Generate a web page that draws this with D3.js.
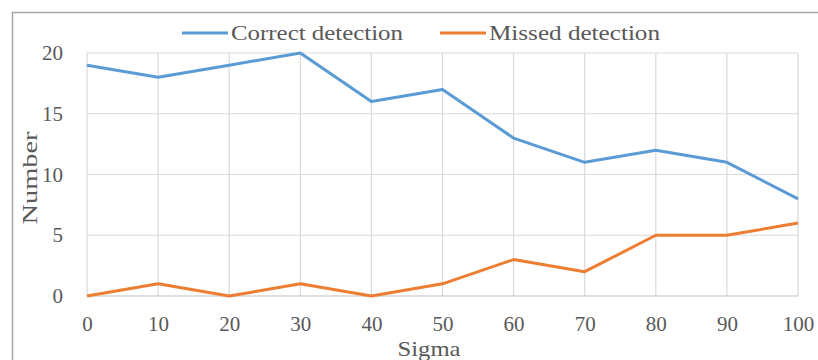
<!DOCTYPE html>
<html>
<head>
<meta charset="utf-8">
<script src="https://cdn.jsdelivr.net/npm/d3@7"></script>
<style>
  html, body { margin: 0; padding: 0; background: #fff; }
  svg { display: block; }
  text { font-family: "Liberation Serif", "DejaVu Serif", serif; fill: #595959; }
</style>
</head>
<body>
<svg id="chart" width="818" height="360"></svg>
<script>
// Detection counts per noise level (sigma)
const sigma = [0, 10, 20, 30, 40, 50, 60, 70, 80, 90, 100];
const correctDetection = [19, 18, 19, 20, 16, 17, 13, 11, 12, 11, 8];
const missedDetection  = [0, 1, 0, 1, 0, 1, 3, 2, 5, 5, 6];
const yTicks = [0, 5, 10, 15, 20];
const xTicks = [0, 10, 20, 30, 40, 50, 60, 70, 80, 90, 100];
const seriesNames = ["Correct detection", "Missed detection"];
const seriesColors = ["#5B9BD5", "#ED7D31"];

const svg = d3.select("#chart");
const margin = { left: 87, right: 20, top: 53, bottom: 64 };
const W = 818, H = 360;

// outer chart frame
svg.append("rect")
  .attr("x", 12.5).attr("y", 12.5)
  .attr("width", 830).attr("height", 370)
  .attr("fill", "none").attr("stroke", "#a6a6a6").attr("stroke-width", 1.5);

const x = d3.scaleLinear().domain([0, 100]).range([margin.left, W - margin.right]);
const y = d3.scaleLinear().domain([0, 20]).range([H - margin.bottom, margin.top]);

// gridlines
const grid = svg.append("g");
grid.selectAll("line.v").data(xTicks).join("line")
  .attr("x1", d => x(d)).attr("x2", d => x(d))
  .attr("y1", y(20)).attr("y2", y(0))
  .attr("stroke", "#d9d9d9").attr("stroke-width", 1.2);
grid.selectAll("line.h").data(yTicks).join("line")
  .attr("x1", x(0)).attr("x2", x(100))
  .attr("y1", d => y(d)).attr("y2", d => y(d))
  .attr("stroke", d => d === 0 ? "#bfbfbf" : "#d9d9d9").attr("stroke-width", 1.2);

// axes (labels only)
const xAxis = svg.append("g")
  .attr("transform", `translate(0,${y(0)})`)
  .call(d3.axisBottom(x).tickValues(xTicks).tickSize(0).tickPadding(20).tickFormat(d3.format("d")));
xAxis.select(".domain").remove();
xAxis.selectAll("text").style("font-size", "21px").attr("fill", "#595959");

const yAxis = svg.append("g")
  .attr("transform", `translate(${x(0)},0)`)
  .call(d3.axisLeft(y).tickValues(yTicks).tickSize(0).tickPadding(24).tickFormat(d3.format("d")));
yAxis.select(".domain").remove();
yAxis.selectAll("text").style("font-size", "21px").attr("fill", "#595959");

// axis titles
svg.append("text")
  .attr("x", 429).attr("y", 356)
  .attr("text-anchor", "middle").style("font-size", "22px")
  .attr("textLength", 63).attr("lengthAdjust", "spacingAndGlyphs")
  .text("Sigma");
svg.append("text")
  .attr("transform", `translate(37,178) rotate(-90)`)
  .attr("text-anchor", "middle").style("font-size", "22px")
  .attr("textLength", 93).attr("lengthAdjust", "spacingAndGlyphs")
  .text("Number");

// series lines
const line = d3.line().x((d, i) => x(sigma[i])).y(d => y(d));
[correctDetection, missedDetection].forEach((vals, k) => {
  svg.append("path")
    .datum(vals)
    .attr("d", line)
    .attr("fill", "none")
    .attr("stroke", seriesColors[k])
    .attr("stroke-width", 3)
    .attr("stroke-linejoin", "round");
});

// legend
const legendX = [182, 440];
seriesNames.forEach((name, k) => {
  const g = svg.append("g").attr("transform", `translate(${legendX[k]},33)`);
  g.append("line").attr("x1", 0).attr("x2", 46).attr("y1", 0).attr("y2", 0)
    .attr("stroke", seriesColors[k]).attr("stroke-width", 3);
  g.append("text").attr("x", 49).attr("y", 7).style("font-size", "21px")
    .attr("textLength", k === 0 ? 172 : 171).attr("lengthAdjust", "spacingAndGlyphs")
    .text(name);
});
</script>
</body>
</html>
